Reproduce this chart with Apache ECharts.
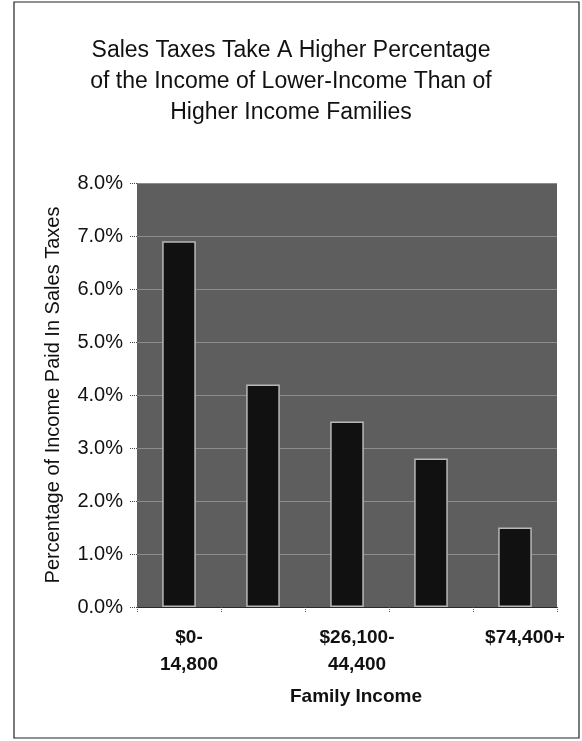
<!DOCTYPE html>
<html>
<head>
<meta charset="utf-8">
<script src="https://cdn.jsdelivr.net/npm/echarts@6/dist/echarts.min.js"></script>
<style>
  html, body { margin: 0; padding: 0; background: #ffffff; }
  #chart { width: 582px; height: 741px; }
</style>
</head>
<body>
<div id="chart"></div>
<script>
// ---- data ----
const titleLines = [
  'Sales Taxes Take A Higher Percentage',
  'of the Income of Lower-Income Than of',
  'Higher Income Families'
];
const categories = ['$0-\n14,800', '$14,800-\n26,100', '$26,100-\n44,400', '$44,400-\n74,400', '$74,400+'];
const salesTaxShare = [6.9, 4.2, 3.5, 2.8, 1.5];
const yMin = 0, yMax = 8, yStep = 1;
const yAxisTitle = 'Percentage of Income Paid In Sales Taxes';
const xAxisTitle = 'Family Income';

const FONT = '"Liberation Sans", Arial, Helvetica, sans-serif';
const chart = echarts.init(document.getElementById('chart'), null, { renderer: 'canvas' });

chart.setOption({
  backgroundColor: '#ffffff',
  animation: false,
  title: {
    text: titleLines.join('\n'),
    left: 'center',
    top: 30,
    textStyle: { fontFamily: FONT, fontSize: 23, fontWeight: 'normal', color: '#111', lineHeight: 31 }
  },
  graphic: [{
    type: 'rect',
    shape: { x: 14, y: 2, width: 565, height: 736 },
    style: { fill: 'none', stroke: '#222', lineWidth: 1.2 },
    silent: true
  }],
  grid: {
    left: 137, right: 25, top: 183, bottom: 134,
    show: true, backgroundColor: '#5e5e5e', borderWidth: 0
  },
  xAxis: {
    type: 'category',
    data: categories,
    name: xAxisTitle,
    nameLocation: 'middle',
    nameGap: 80,
    nameTextStyle: { fontFamily: FONT, fontSize: 19, fontWeight: 'bold', color: '#111', padding: [0, 0, 0, 18] },
    axisLine: { show: true, lineStyle: { color: '#2a2a2a', width: 1 } },
    axisTick: { show: true, interval: 0, length: 5, lineStyle: { color: '#555', type: 'dotted' } },
    axisLabel: {
      interval: 1, margin: 17, fontFamily: FONT, fontSize: 19, fontWeight: 'bold',
      color: '#111', lineHeight: 27, padding: [0, 0, 0, 20]
    },
    splitLine: { show: false }
  },
  yAxis: {
    type: 'value',
    min: yMin, max: yMax, interval: yStep,
    name: yAxisTitle,
    nameLocation: 'middle',
    nameRotate: 90,
    nameGap: 74,
    nameTextStyle: { fontFamily: FONT, fontSize: 20, color: '#111' },
    axisLine: { show: false },
    axisTick: { show: true, length: 8, lineStyle: { color: '#444', type: 'dotted' } },
    axisLabel: {
      margin: 14, fontFamily: FONT, fontSize: 20, color: '#111',
      formatter: v => v.toFixed(1) + '%'
    },
    splitLine: { show: true, lineStyle: { color: '#8c8c8c', width: 1 } }
  },
  series: [{
    type: 'bar',
    data: salesTaxShare,
    barWidth: '40%',
    itemStyle: { color: '#111111', borderColor: '#b8b8b8', borderWidth: 1.5 }
  }]
});
</script>
</body>
</html>
